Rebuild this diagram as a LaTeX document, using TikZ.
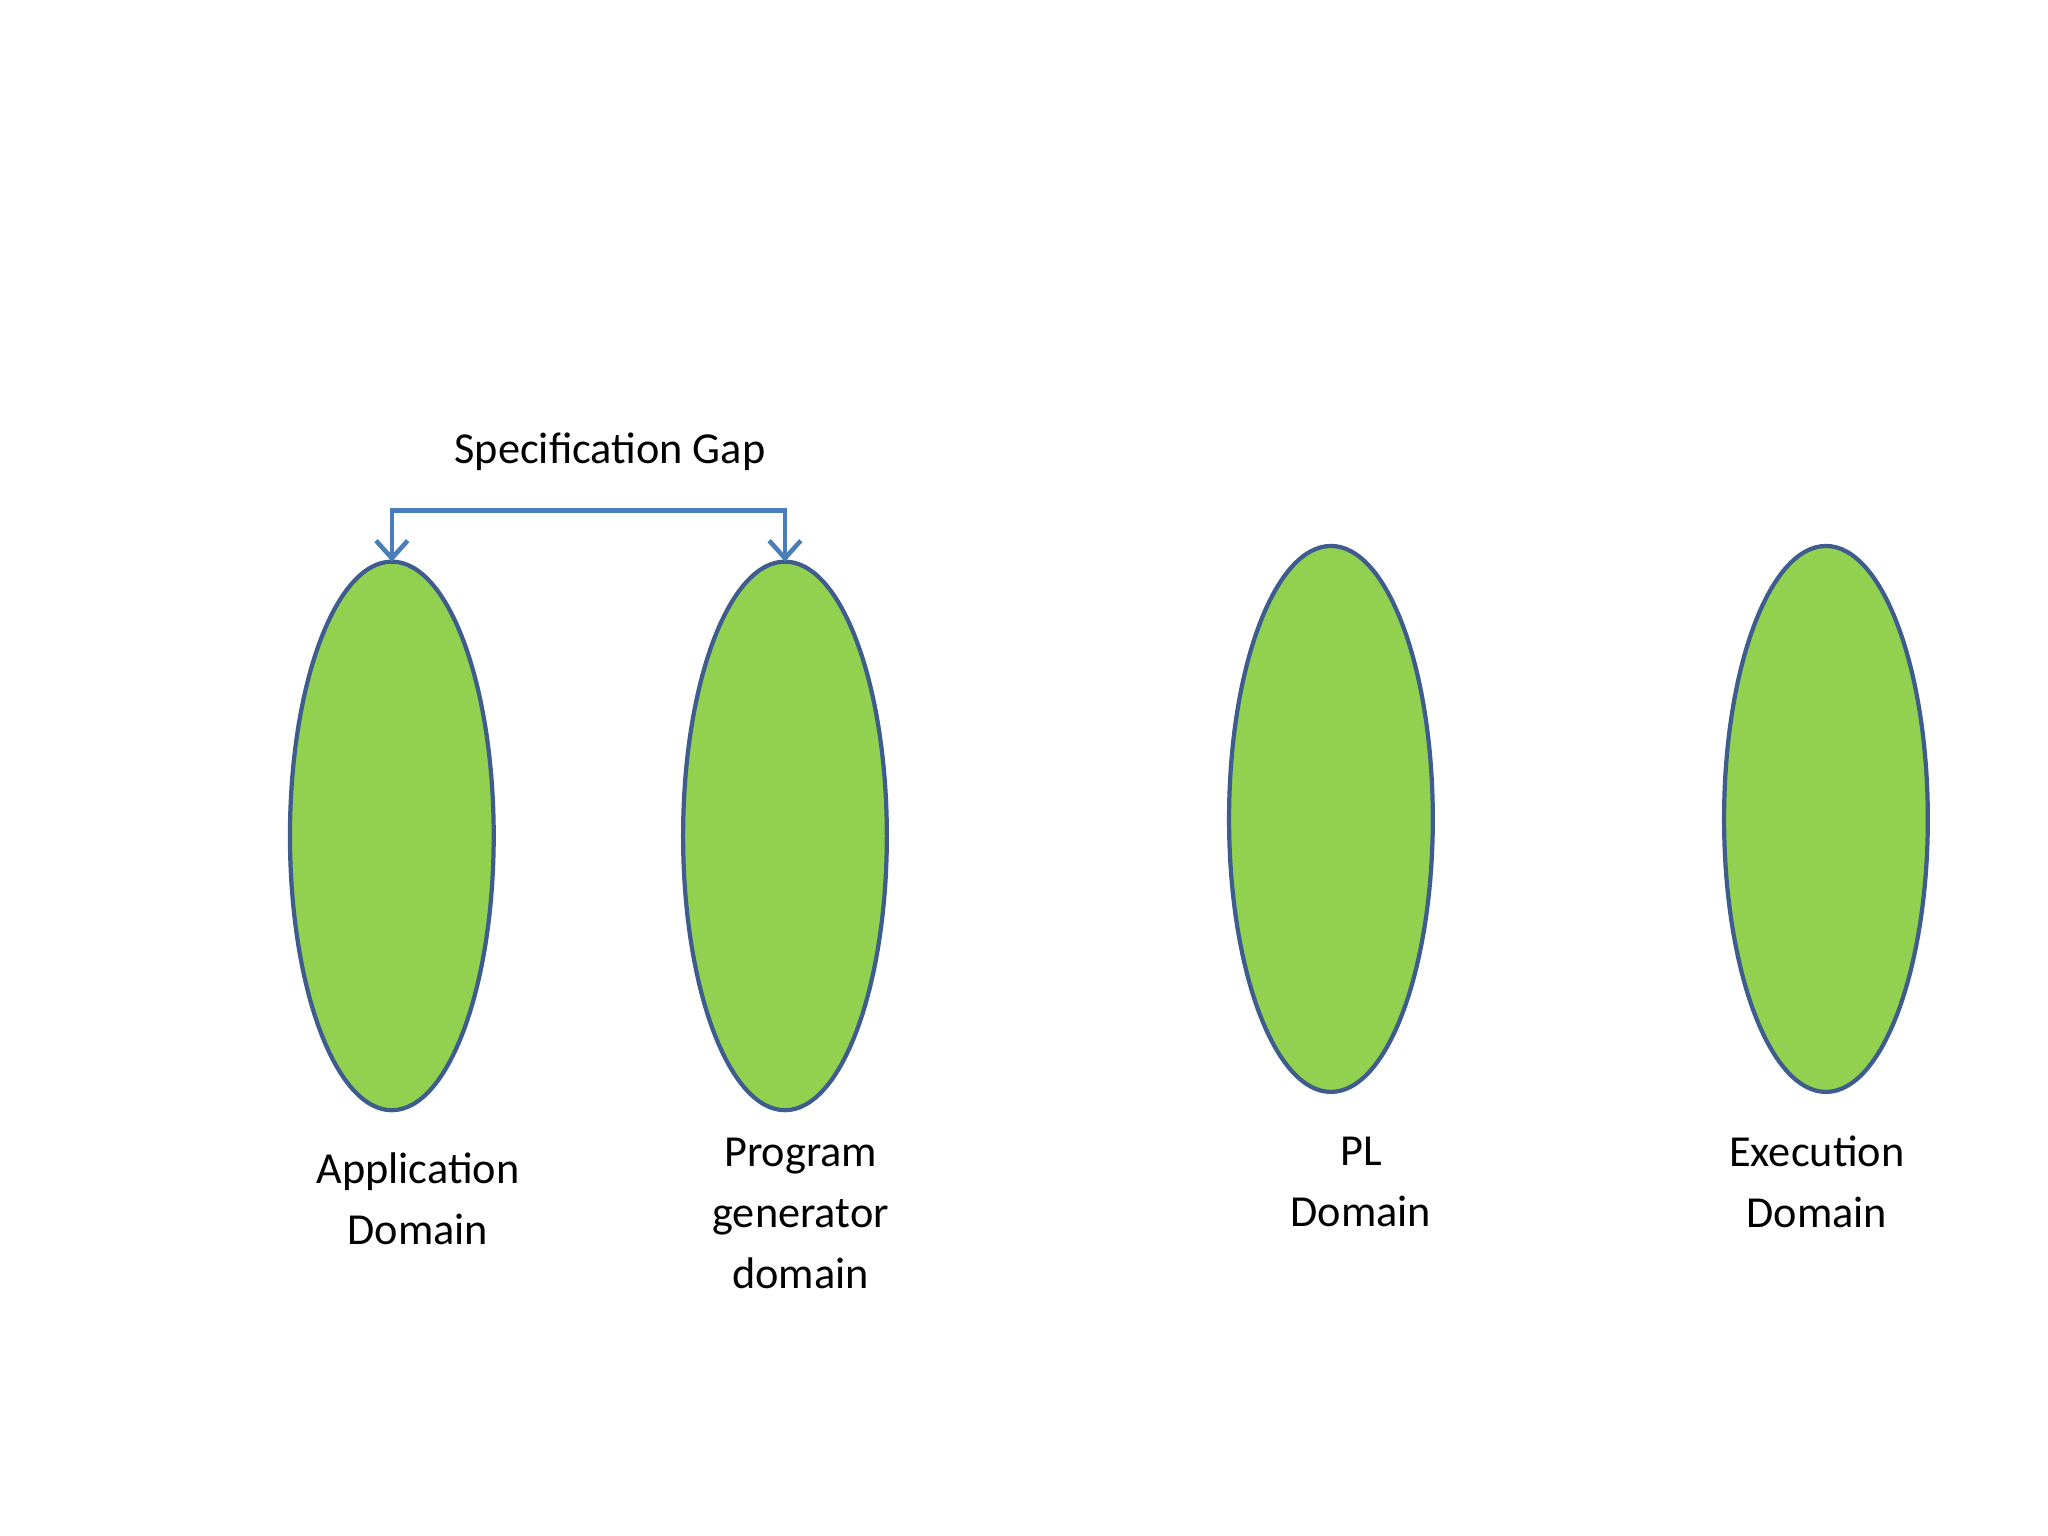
\documentclass[tikz,border=0pt]{standalone}
\usepackage{fontspec}
\setmainfont{Carlito}
\usetikzlibrary{arrows.meta}
\definecolor{gfill}{HTML}{92D050}
\definecolor{gline}{HTML}{3F5C8F}
\definecolor{aline}{HTML}{4A7EBB}
\begin{document}
\begin{tikzpicture}[x=0.01306cm,y=-0.01306cm,
  dom/.style={draw=gline,fill=gfill,line width=1.2pt},
  lbl/.style={font=\fontsize{12.6}{17.4}\selectfont,align=center}]
\path[use as bounding box,fill=white] (0,0) rectangle (1568,1176);
\draw[dom] (300,640) ellipse [x radius=78,y radius=210];
\draw[dom] (601,640) ellipse [x radius=78,y radius=210];
\draw[dom] (1019,627) ellipse [x radius=78,y radius=209];
\draw[dom] (1398,627) ellipse [x radius=78,y radius=209];
\coordinate (ta) at (300,430);
\coordinate (tb) at (601,430);
\draw[aline,line width=1.3pt,{Straight Barb[length=5pt,width=9pt]}-{Straight Barb[length=5pt,width=9pt]}] (ta) -- (300,391) -- (601,391) -- (tb);
\node[lbl] (gap) at (467,346) {Specification Gap};
\node[lbl] (la) at (320,918) {Application\\Domain};
\node[lbl] (lb) at (613,929) {Program\\generator\\domain};
\node[lbl] (lc) at (1042,905) {PL\\Domain};
\node[lbl] (ld) at (1391,905) {Execution\\Domain};
\end{tikzpicture}
\end{document}
